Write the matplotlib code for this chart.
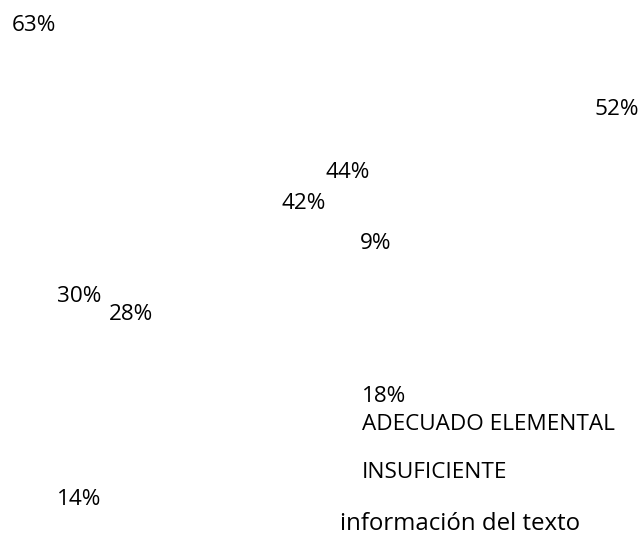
import matplotlib

matplotlib.use("Agg")
import matplotlib.pyplot as plt

# values shown as percentage labels (no bars survive in the picture)
values = [63, 52, 44, 42, 9, 30, 28, 18, 14]
legend_labels = ["ADECUADO ELEMENTAL", "INSUFICIENTE"]
axis_title = "información del texto"

# label anchors in pixel space (left edge, baseline)
value_x = [12, 595, 325, 281, 360, 57, 109, 362, 57]
value_y = [31, 115, 178, 209, 249, 302, 320, 402, 505]
legend_x = [362, 362]
legend_y = [430, 478]
title_x, title_y = 340, 530

width, height = 641, 537
fig = plt.figure(figsize=(width / 100, height / 100), dpi=100)
ax = fig.add_axes([0, 0, 1, 1])
ax.set_xlim(0, width)
ax.set_ylim(height, 0)
ax.axis("off")

text_style = dict(family=["Open Sans", "DejaVu Sans"], color="black",
                  ha="left", va="baseline")

for value, x, y in zip(values, value_x, value_y):
    ax.text(x, y, f"{value}%", fontsize=16.2, **text_style)

for label, x, y in zip(legend_labels, legend_x, legend_y):
    ax.text(x, y, label, fontsize=16.2, **text_style)

ax.text(title_x, title_y, axis_title, fontsize=17.3, **text_style)

fig.savefig("out.png", dpi=100, facecolor="white")
plt.close(fig)
